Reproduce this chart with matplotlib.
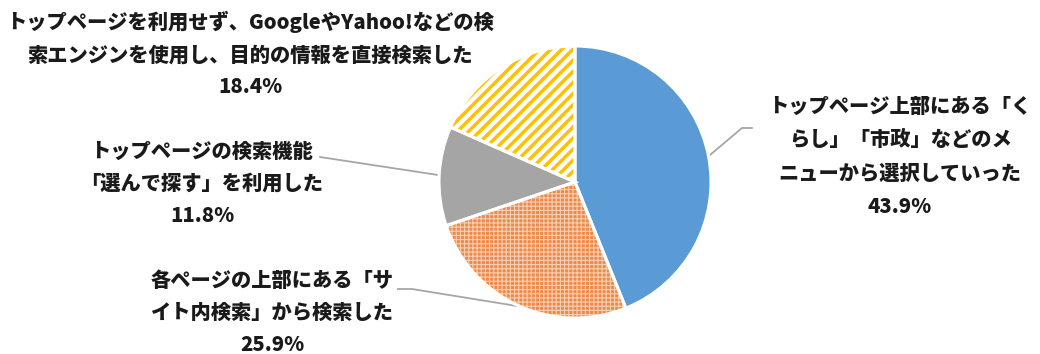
import matplotlib
matplotlib.use('Agg')
import matplotlib.pyplot as plt
from matplotlib.patches import Wedge

plt.rcParams['font.family'] = ['Noto Sans CJK JP', 'DejaVu Sans']

# 回答データ
etiquetas = [
    "トップページ上部にある「く\nらし」「市政」などのメ\nニューから選択していった",
    "各ページの上部にある「サ\nイト内検索」から検索した",
    "トップページの検索機能\n「選んで探す」を利用した",
    "トップページを利用せず、GoogleやYahoo!などの検\n索エンジンを使用し、目的の情報を直接検索した",
]
valores = [43.9, 25.9, 11.8, 18.4]
colores = ['#5B9BD5', '#EE8A4C', '#A5A5A5', '#FFFFFF']
tramas = [None, '++++', None, '///']
color_trama = [None, '#F9CFB2', None, '#FFC000']
grosor_trama = [0, 0.8, 0, 2.5]

fig = plt.figure(figsize=(10.4, 3.54), dpi=100)
ax = fig.add_axes([0, 0, 1, 1])

centro = (575, 172)
radio = 136

cunas, _ = ax.pie(valores, colors=colores, startangle=90, counterclock=False,
                  center=centro, radius=radio, frame=True,
                  wedgeprops=dict(linewidth=0))
ax.set_xlim(0, 1040)
ax.set_ylim(0, 354)
ax.axis('off')

for c, t, ct, g in zip(cunas, tramas, color_trama, grosor_trama):
    if t:
        # la trama se lee de rcParams al crear cada parche
        plt.rcParams['hatch.linewidth'] = g
        ax.add_patch(Wedge(c.center, c.r, c.theta1, c.theta2, facecolor='none',
                           edgecolor=ct, linewidth=0, hatch=t, zorder=2))
    # borde blanco entre las porciones
    ax.add_patch(Wedge(c.center, c.r, c.theta1, c.theta2, fill=False,
                       edgecolor='white', linewidth=2.2, zorder=3))

# posiciones de las etiquetas (centro del bloque de texto) e interlineado
pos = [(900, 197), (272, 41), (202, 170), (250, 300)]
interlineado = [1.85, 1.75, 1.75, 1.75]
for (x, y), txt, v, il in zip(pos, etiquetas, valores, interlineado):
    ax.text(x, y, f"{txt}\n{v}%", ha='center', va='center', fontsize=14.6,
            fontweight='heavy', linespacing=il, color='#1a1a1a')

# lineas guia
gris = '#A6A6A6'
ax.plot([710, 742, 752], [354 - 155, 354 - 128, 354 - 128], color=gris, lw=1.3)
ax.plot([398, 412, 517], [354 - 289, 354 - 289, 354 - 306], color=gris, lw=1.3)
ax.plot([320, 438], [354 - 157, 354 - 175], color=gris, lw=1.3)

fig.savefig('out.png', dpi=100)
